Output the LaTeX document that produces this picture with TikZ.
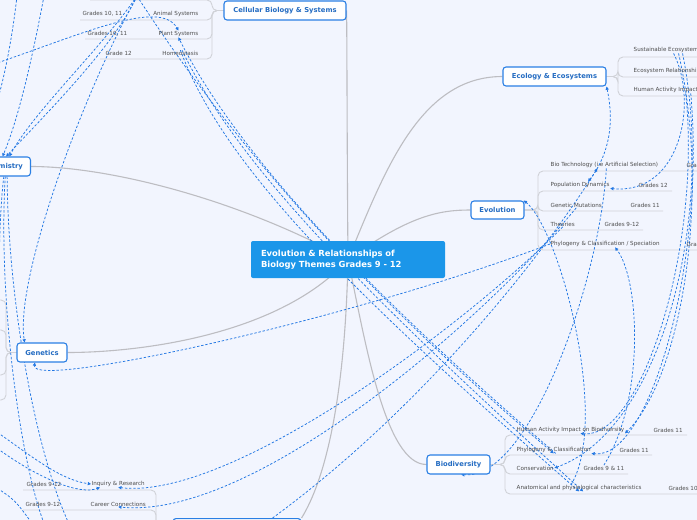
\documentclass[tikz,border=0pt]{standalone}
\usepackage{fontspec}
\setmainfont{DejaVu Sans}
\usetikzlibrary{arrows.meta,calc}
\definecolor{paper}{HTML}{F2F5FE}
\definecolor{themeblue}{HTML}{1B96E9}
\definecolor{edgeblue}{HTML}{2A7FE4}
\definecolor{linkblue}{HTML}{2277E3}
\definecolor{trunkgray}{HTML}{BDBDC2}
\definecolor{twiggray}{HTML}{D0D2D8}
\definecolor{leafgray}{HTML}{4D4D4D}
\pgfdeclarelayer{paperlayer}
\pgfdeclarelayer{linklayer}
\pgfsetlayers{paperlayer,linklayer,main}
\tikzset{
  theme/.style={fill=themeblue, text=white, rounded corners=2pt, align=left,
    font=\bfseries\fontsize{8.4}{10.5}\selectfont, text width=174pt,
    inner xsep=10pt, minimum height=37pt},
  topic/.style={draw=edgeblue, line width=1.1pt, fill=white, rounded corners=3pt,
    text=edgeblue!85!black, font=\bfseries\fontsize{6.8}{8}\selectfont, inner sep=0pt},
  leaf/.style={text=leafgray, font=\fontsize{5.6}{6.5}\selectfont, inner sep=0.5pt},
  trunk/.style={draw=trunkgray, line width=1.1pt},
  twig/.style={draw=twiggray, line width=0.9pt, rounded corners=5pt},
  link/.style={draw=linkblue, line width=0.75pt, dash pattern=on 2.4pt off 1.8pt,
    -{Triangle[length=3.2pt,width=3.2pt]}},
  link both/.style={link, {Triangle[length=3.2pt,width=3.2pt]}-{Triangle[length=3.2pt,width=3.2pt]}},
}

\begin{document}
\begin{tikzpicture}[x=1pt,y=-1pt]
\useasboundingbox (0,0) rectangle (697,520);
\begin{pgfonlayer}{paperlayer}
  \fill[paper] (0,0) rectangle (697,520);
\end{pgfonlayer}

% main topics
\node[theme] (central) at (348,259.5) {Evolution \& Relationships of\\Biology Themes Grades 9 - 12};
\node[topic, minimum width=122pt, minimum height=19pt] (cell) at (285,10.5) {Cellular Biology \& Systems};
\node[topic, minimum width=103pt, minimum height=19pt] (eco) at (554.5,76.5) {Ecology \& Ecosystems};
\node[topic, minimum width=53pt, minimum height=18pt] (evo) at (497.5,210) {Evolution};
\node[topic, minimum width=63pt, minimum height=19pt] (bio) at (458.5,464.5) {Biodiversity};
\node[topic, minimum width=50pt, minimum height=19pt] (gen) at (42,352.5) {Genetics};
\node[topic, minimum width=54pt, minimum height=19pt, anchor=east] (chem) at (31,166.5) {Chemistry};
\node[topic, minimum width=128pt, minimum height=22pt, anchor=north] (skills) at (237,518) {};

% cellular biology
\node[leaf, anchor=east] (animal) at (199,14) {Animal Systems};
\node[leaf, anchor=east] (plant) at (199,34) {Plant Systems};
\node[leaf, anchor=east] (homeo) at (199,53) {Homeostasis};
\node[leaf, anchor=west] (animalG) at (82,14) {Grades 10, 11};
\node[leaf, anchor=west] (plantG) at (87,34) {Grades 10, 11};
\node[leaf, anchor=west] (homeoG) at (105,53) {Grade 12};

% ecology
\node[leaf, anchor=west] (ecoSus) at (633,50) {Sustainable Ecosystems};
\node[leaf, anchor=west] (ecoRel) at (633,71) {Ecosystem Relationships};
\node[leaf, anchor=west] (ecoHum) at (633,90) {Human Activity Impact};

% evolution
\node[leaf, anchor=west] (evoTech) at (550,165) {Bio Technology (i.e Artificial Selection)};
\node[leaf, anchor=west] (evoPop) at (550,185) {Population Dynamics};
\node[leaf, anchor=west] (evoMut) at (550,205) {Genetic Mutations};
\node[leaf, anchor=west] (evoTheo) at (550,224) {Theories};
\node[leaf, anchor=west] (evoPhy) at (550,244) {Phylogeny \& Classification / Speciation};
\node[leaf, anchor=west] (evoTechG) at (686,165) {Grades 9-12};
\node[leaf, anchor=west] (evoPopG) at (638,185) {Grades 12};
\node[leaf, anchor=west] (evoMutG) at (630,205) {Grades 11};
\node[leaf, anchor=west] (evoTheoG) at (604,224) {Grades 9-12};
\node[leaf, anchor=west] (evoPhyG) at (686,244) {Grades 9-12};

% biodiversity
\node[leaf, anchor=west] (bioHum) at (516,430) {Human Activity Impact on Biodiversity};
\node[leaf, anchor=west] (bioPhy) at (516,450) {Phylogeny \& Classification};
\node[leaf, anchor=west] (bioCon) at (516,468) {Conservation};
\node[leaf, anchor=west] (bioAna) at (516,488) {Anatomical and physiological characteristics};
\node[leaf, anchor=west] (bioHumG) at (653,430) {Grades 11};
\node[leaf, anchor=west] (bioPhyG) at (619,450) {Grades 11};
\node[leaf, anchor=west] (bioConG) at (583,468) {Grades 9 \& 11};
\node[leaf, anchor=west] (bioAnaG) at (668,488) {Grades 10};

% skills
\node[leaf, anchor=west] (inquiry) at (91,484) {Inquiry \& Research};
\node[leaf, anchor=west] (career) at (90,504) {Career Connections};
\node[leaf, anchor=west] (inquiryG) at (26,484) {Grades 9-12};
\node[leaf, anchor=west] (careerG) at (25,504) {Grades 9-12};

% loose ends of links
\coordinate (topHub) at (137,-4);
\coordinate (offA) at (-6,64);
\coordinate (offB) at (44,-4);
\coordinate (offC) at (17,-4);
\coordinate (offD) at (-6,112);
\coordinate (offE) at (45,526);
\coordinate (offF) at (70,526);
\coordinate (offG) at (-4,470);
\coordinate (offH) at (-6,430);
\coordinate (offI) at (-6,446);
\coordinate (offJ) at (-6,486);
\coordinate (offK) at (34,526);

\begin{pgfonlayer}{linklayer}
  % branches
  \draw[trunk] (central.center) .. controls (347,150) and (347,30) .. (cell.east);
  \draw[trunk] (central.center) .. controls (385,170) and (420,76.5) .. (eco.west);
  \draw[trunk] (central.center) .. controls (410,215) and (440,210) .. (evo.west);
  \draw[trunk] (central.center) .. controls (365,340) and (385,464.5) .. (bio.west);
  \draw[trunk] (central.center) .. controls (240,200) and (110,166.5) .. (chem.east);
  \draw[trunk] (central.center) .. controls (280,335) and (140,352.5) .. (gen.east);
  \draw[trunk] (central.center) .. controls (345,400) and (325,480) .. (skills.north east);

  \draw[twig] (cell.west) -- (212,10.5) |- (90,0);
  \draw[twig] (cell.west) -- (212,10.5) |- (80,20);
  \draw[twig] (cell.west) -- (212,10.5) |- (85,39);
  \draw[twig] (cell.west) -- (212,10.5) |- (100,59);

  \draw[twig] (eco.east) -- (618,76.5) |- (700,57);
  \draw[twig] (eco.east) -- (618,76.5) |- (700,77);
  \draw[twig] (eco.east) -- (618,76.5) |- (700,96);

  \draw[twig] (evo.east) -- (538,210) |- (700,171);
  \draw[twig] (evo.east) -- (538,210) |- (672,191);
  \draw[twig] (evo.east) -- (538,210) |- (663,211);
  \draw[twig] (evo.east) -- (538,210) |- (643,230);
  \draw[twig] (evo.east) -- (538,210) |- (700,250);

  \draw[twig] (bio.east) -- (505,464.5) |- (687,435);
  \draw[twig] (bio.east) -- (505,464.5) |- (652,455);
  \draw[twig] (bio.east) -- (505,464.5) |- (628,474);
  \draw[twig] (bio.east) -- (505,464.5) |- (700,494);

  \draw[twig] (skills.west) -- (156,529) |- (23,490);
  \draw[twig] (skills.west) -- (156,529) |- (23,510);

  \draw[twig] (gen.west) -- (6,352.5) |- (-10,300);
  \draw[twig] (gen.west) -- (6,352.5) |- (-10,330);
  \draw[twig] (gen.west) -- (6,352.5) |- (-10,375);
  \draw[twig] (gen.west) -- (6,352.5) |- (-10,400);

  % relationships
  \draw[link] (topHub) .. controls (100,50) and (35,110) .. (chem.60);
  \draw[link] (topHub) .. controls (115,45) and (45,115) .. (chem.75);
  \draw[link] (offB) .. controls (32,60) and (18,120) .. (chem.95);
  \draw[link] (offC) .. controls (12,40) and (4,80) .. (offD);
  \draw[link] (topHub) .. controls (80,100) and (15,280) .. (gen.150);
  \draw[link] (offA) .. controls (80,35) and (160,-2) .. (plant.north);

  \draw[link] (topHub) .. controls (230,140) and (360,290) .. (bioPhy.south);
  \draw[link] (bioPhy.-60) .. controls (365,290) and (235,150) .. (plant.south);
  \draw[link] (homeo.north) .. controls (225,170) and (360,300) .. (bioAna.south);
  \draw[link] (homeo.60) .. controls (240,170) and (372,300) .. ($(bioAna.south)+(4,0)$);

  \draw[link] (evoPhy.west) .. controls (350,320) and (30,390) .. (gen.-125);
  \draw[link] (evoTheo.south) .. controls (460,330) and (230,500) .. (inquiry.south);
  \draw[link] (evoMut.south) .. controls (475,330) and (250,520) .. (career.south);
  \draw[link] (skills.18) .. controls (420,410) and (540,260) .. ($(evoTech.south)+(-7,0)$);
  \draw[link] ($(evoTech.south)+(2,0)$) .. controls (600,280) and (530,480) .. (bio.-75);
  \draw[link] ($(bioAna.north)+(-8,0)$) .. controls (610,420) and (560,230) .. (evo.20);

  \draw[link both] (eco.south east) .. controls (616,130) and (605,160) .. ($(evoPop.north)+(8,0)$);
  \draw[link] ($(ecoSus.south)+(6,0)$) .. controls (698,100) and (682,195) .. (evoPop.south east);
  \draw[link] ($(ecoSus.south)+(11,0)$) .. controls (712,200) and (680,380) .. (bioHum.south east);
  \draw[link] ($(ecoSus.south)+(15,0)$) .. controls (716,220) and (660,430) .. (bioCon.east);
  \draw[link] ($(ecoHum.south)+(20,0)$) .. controls (702,250) and (640,440) .. ($(bioHum.south)+(10,0)$);
  \draw[link] ($(ecoHum.south)+(25,0)$) .. controls (706,260) and (650,460) .. (bioPhy.south east);
  \draw[link] (bioConG.north) .. controls (645,400) and (640,280) .. ($(evoPhy.south)+(10,0)$);

  \draw[link] (chem.-80) .. controls (-2,300) and (20,460) .. (offE);
  \draw[link] (chem.-70) .. controls (8,300) and (35,450) .. (offF);
  \draw[link] (chem.-88) .. controls (-6,260) and (4,380) .. (offG);
  \draw[link] (offH) .. controls (30,455) and (60,480) .. (inquiry.west);
  \draw[link] (offI) .. controls (40,480) and (80,495) .. ($(inquiry.south west)+(9,0)$);
  \draw[link] (offJ) .. controls (15,500) .. (offK);
\end{pgfonlayer}
\end{tikzpicture}
\end{document}
